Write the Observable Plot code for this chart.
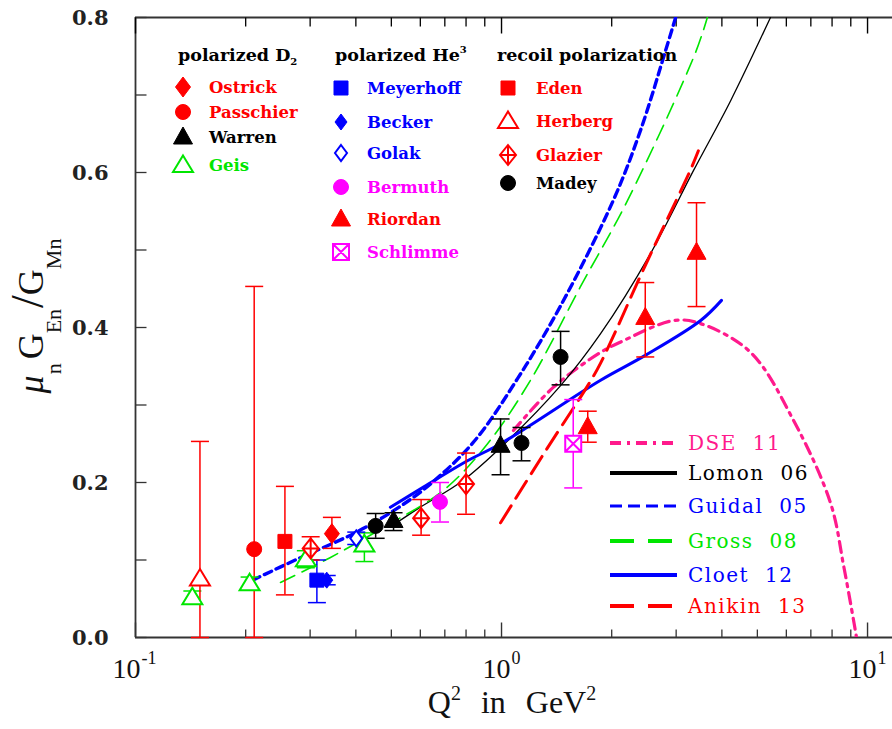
<!DOCTYPE html>
<html><head><meta charset="utf-8">
<script src="https://cdn.jsdelivr.net/npm/d3@7"></script>
<script src="https://cdn.jsdelivr.net/npm/@observablehq/plot@0.6"></script>
<style>
body{margin:0;background:#fff}
#chart{width:892px;height:729px;overflow:hidden}
</style>
</head><body><div id="chart"></div>
<script>
// ---------------- data: [Q2, value, low, high] ----------------
const ostrick   = [[0.344,0.134,0.115,0.155]];
const passchier = [[0.211,0.114,0.0,0.453]];
const warren    = [[0.507,0.151,0.138,0.161],[0.994,0.248,0.210,0.282]];
const geis      = [[0.143,0.052,0.045,0.060],[0.205,0.070,0.062,0.078],[0.292,0.101,0.090,0.112],[0.422,0.120,0.098,0.135]];
const meyerhoff = [[0.313,0.074,0.045,0.100]];
const becker    = [[0.333,0.074,0.068,0.080]];
const golak     = [[0.401,0.128,0.120,0.136]];
const bermuth   = [[0.679,0.175,0.149,0.200]];
const riordan   = [[1.72,0.272,0.252,0.292],[2.47,0.413,0.362,0.458],[3.41,0.497,0.427,0.561]];
const schlimme  = [[1.57,0.250,0.193,0.307]];
const eden      = [[0.256,0.124,0.055,0.195]];
const herberg   = [[0.150,0.076,0.0,0.253]];
const glazier   = [[0.301,0.115,0.100,0.130],[0.603,0.154,0.132,0.178],[0.80,0.198,0.159,0.238]];
const madey     = [[0.453,0.144,0.128,0.160],[1.134,0.251,0.228,0.271],[1.45,0.362,0.326,0.395]];

// theory curves: [Q2, value]
const dse11   = [[1.078,0.267],[1.387,0.323],[1.865,0.368],[2.11,0.381],[2.95,0.409],[3.50,0.405],[4.79,0.368],[6.28,0.280],[7.93,0.173],[8.60,0.093],[9.16,0.022],[9.33,0.0]];
const lomon06 = [[0.513,0.147],[0.590,0.166],[0.787,0.203],[0.994,0.245],[1.45,0.325],[1.865,0.392],[2.55,0.495],[3.35,0.603],[4.23,0.693],[5.43,0.800]];
const guidal05= [[0.209,0.074],[0.282,0.103],[0.394,0.134],[0.497,0.161],[0.628,0.195],[0.838,0.252],[1.106,0.334],[1.45,0.428],[2.02,0.564],[2.40,0.655],[2.81,0.758],[2.99,0.800]];
const gross08 = [[0.249,0.071],[0.340,0.103],[0.476,0.142],[0.694,0.190],[0.916,0.250],[1.200,0.332],[1.64,0.452],[2.21,0.564],[3.39,0.755],[3.65,0.800]];
const cloet12 = [[0.497,0.168],[0.612,0.194],[0.807,0.228],[0.994,0.250],[1.865,0.332],[2.47,0.364],[3.50,0.409],[3.99,0.435]];
const anikin13= [[0.994,0.148],[1.32,0.241],[1.72,0.325],[1.865,0.354],[2.47,0.480],[3.28,0.603],[3.45,0.628]];

// axes
const xDomain = [0.1, 11.7];
const yDomain = [0, 0.8];
const yTicksMajor = [0, 0.2, 0.4, 0.6, 0.8];
const yTicksMinor = [0.1, 0.3, 0.5, 0.7];
const yTickLabels = ["0.0", "0.2", "0.4", "0.6", "0.8"];
const xTicksMajor = [0.1, 1, 10];
const xTicksMinor = [0.2,0.3,0.4,0.5,0.6,0.7,0.8,0.9,2,3,4,5,6,7,8,9];
const xTickExps = ["-1", "0", "1"];

// legend texts
const groupTitles = ["polarized D", "polarized He", "recoil polarization"];
const groupMarks = ["2", "3", ""];
const groupD2 = ["Ostrick", "Passchier", "Warren", "Geis"];
const groupHe3 = ["Meyerhoff", "Becker", "Golak", "Bermuth", "Riordan", "Schlimme"];
const groupRecoil = ["Eden", "Herberg", "Glazier", "Madey"];
const curveNames = ["DSE 11", "Lomon 06", "Guidal 05", "Gross 08", "Cloet 12", "Anikin 13"];

// ---------------- styles ----------------
const RED = "#ff0000", BLUE = "#0000ff", GREEN = "#00e600", MAG = "#ff00ff", BLK = "#000000", PINK = "#ff1a8c";
const sym = f => ({draw(c){ f(c); }});
const S = {
  circle: sym(c=>{c.moveTo(7.5,0);c.arc(0,0,7.5,0,2*Math.PI);}),
  square: sym(c=>{c.rect(-7,-7,14,14);}),
  diamond: sym(c=>{c.moveTo(0,-10);c.lineTo(7.5,0);c.lineTo(0,10);c.lineTo(-7.5,0);c.closePath();}),
  diamondS: sym(c=>{c.moveTo(0,-8);c.lineTo(6,0);c.lineTo(0,8);c.lineTo(-6,0);c.closePath();}),
  triangle: sym(c=>{c.moveTo(0,-10);c.lineTo(9.5,7);c.lineTo(-9.5,7);c.closePath();}),
  triangleO: sym(c=>{c.moveTo(0,-9.5);c.lineTo(10,7);c.lineTo(-10,7);c.closePath();}),
  crossDiamond: sym(c=>{c.moveTo(0,-10);c.lineTo(8,0);c.lineTo(0,10);c.lineTo(-8,0);c.closePath();c.moveTo(0,-10);c.lineTo(0,10);c.moveTo(-8,0);c.lineTo(8,0);}),
  crossSquare: sym(c=>{c.rect(-8,-8,16,16);c.moveTo(-8,-8);c.lineTo(8,8);c.moveTo(8,-8);c.lineTo(-8,8);}),
  cap: sym(c=>{c.moveTo(-9,0);c.lineTo(9,0);}),
  tickIn: sym(c=>{c.moveTo(0,0);c.lineTo(11,0);}),
  tickUpMaj: sym(c=>{c.moveTo(0,0);c.lineTo(0,-15);}),
  tickUpMin: sym(c=>{c.moveTo(0,0);c.lineTo(0,-8);}),
  tickDnMaj: sym(c=>{c.moveTo(0,0);c.lineTo(0,16);}),
  tickDnMin: sym(c=>{c.moveTo(0,0);c.lineTo(0,9);})
};
const seriesStyle = {
  Ostrick:  {data: ostrick,   color: RED,  symbol: S.diamond,      open: false},
  Passchier:{data: passchier, color: RED,  symbol: S.circle,       open: false},
  Warren:   {data: warren,    color: BLK,  symbol: S.triangle,     open: false},
  Geis:     {data: geis,      color: GREEN,symbol: S.triangleO,    open: true},
  Meyerhoff:{data: meyerhoff, color: BLUE, symbol: S.square,       open: false},
  Becker:   {data: becker,    color: BLUE, symbol: S.diamondS,     open: false},
  Golak:    {data: golak,     color: BLUE, symbol: S.diamondS,     open: true},
  Bermuth:  {data: bermuth,   color: MAG,  symbol: S.circle,       open: false},
  Riordan:  {data: riordan,   color: RED,  symbol: S.triangle,     open: false},
  Schlimme: {data: schlimme,  color: MAG,  symbol: S.crossSquare,  open: true},
  Eden:     {data: eden,      color: RED,  symbol: S.square,       open: false},
  Herberg:  {data: herberg,   color: RED,  symbol: S.triangleO,    open: true},
  Glazier:  {data: glazier,   color: RED,  symbol: S.crossDiamond, open: true},
  Madey:    {data: madey,     color: BLK,  symbol: S.circle,       open: false}
};
const curveStyle = {
  "DSE 11":   {data: dse11,    color: PINK, width: 3.2, dash: "11,6,3,6", lw: 4, ldash: "11,6,3,6"},
  "Lomon 06": {data: lomon06,  color: BLK,  width: 1.3, dash: null,       lw: 4, ldash: null},
  "Guidal 05":{data: guidal05, color: BLUE, width: 3.4, dash: "8,5",      lw: 3, ldash: "12,6"},
  "Gross 08": {data: gross08,  color: GREEN,width: 1.6, dash: "16,8",     lw: 4, ldash: "24,14"},
  "Cloet 12": {data: cloet12,  color: BLUE, width: 3,   dash: null,       lw: 4, ldash: null},
  "Anikin 13":{data: anikin13, color: RED,  width: 3,   dash: "20,9",     lw: 4, ldash: "24,14"}
};

// ---------------- marks ----------------
const AX = "#333";
const marks = [];
// frame
marks.push(Plot.ruleY([yDomain[0]], {stroke: AX, strokeWidth: 1.8}));
marks.push(Plot.ruleY([yDomain[1]], {stroke: AX, strokeWidth: 1.8}));
marks.push(Plot.ruleX([xDomain[0]], {stroke: AX, strokeWidth: 1.8}));
// y ticks
marks.push(Plot.dot(yTicksMajor.concat(yTicksMinor), {x: () => xDomain[0], y: d => d, symbol: S.tickIn, stroke: AX, strokeWidth: 1.3}));
// x ticks (bottom and top)
marks.push(Plot.dot(xTicksMajor, {x: d => d, y: () => yDomain[0], symbol: S.tickUpMaj, stroke: AX, strokeWidth: 1.4}));
marks.push(Plot.dot(xTicksMinor, {x: d => d, y: () => yDomain[0], symbol: S.tickUpMin, stroke: AX, strokeWidth: 1.3}));
marks.push(Plot.dot(xTicksMajor, {x: d => d, y: () => yDomain[1], symbol: S.tickDnMaj, stroke: BLK, strokeWidth: 1.4}));
marks.push(Plot.dot(xTicksMinor, {x: d => d, y: () => yDomain[1], symbol: S.tickDnMin, stroke: BLK, strokeWidth: 1.3}));
// y tick labels
marks.push(Plot.text(yTicksMajor, {x: () => xDomain[0], y: d => d, text: (d, i) => yTickLabels[i], textAnchor: "end", dx: -27, dy: 1,
  fontFamily: "DejaVu Serif", fontWeight: "bold", fontSize: 21, fill: "#222"}));
// x tick labels "10" + exponent
xTicksMajor.forEach((t, i) => {
  const e = xTickExps[i];
  const ew = e.length * 8;
  marks.push(Plot.text([t], {x: d => d, y: () => yDomain[0], text: () => "10", textAnchor: "end", dx: 14 - ew / 2 - 1, dy: 32,
    fontFamily: "Liberation Serif", fontSize: 28, fill: "#111"}));
  marks.push(Plot.text([t], {x: d => d, y: () => yDomain[0], text: () => e, textAnchor: "start", dx: 14 - ew / 2, dy: 21,
    fontFamily: "Liberation Serif", fontSize: 18, fill: "#111"}));
});
// theory curves
for (const name of curveNames) {
  const s = curveStyle[name];
  marks.push(Plot.line(s.data, {x: d => d[0], y: d => d[1], stroke: s.color, strokeWidth: s.width,
    strokeDasharray: s.dash || undefined, curve: "catmull-rom", clip: true}));
}
// data points with error bars
for (const name of [...groupD2, ...groupHe3, ...groupRecoil]) {
  const s = seriesStyle[name];
  marks.push(Plot.ruleX(s.data, {x: d => d[0], y1: d => d[2], y2: d => d[3], stroke: s.color, strokeWidth: 1.5}));
  marks.push(Plot.dot(s.data, {x: d => d[0], y: d => d[2], symbol: S.cap, stroke: s.color, strokeWidth: 1.5}));
  marks.push(Plot.dot(s.data, {x: d => d[0], y: d => d[3], symbol: S.cap, stroke: s.color, strokeWidth: 1.5}));
}
for (const name of [...groupD2, ...groupHe3, ...groupRecoil]) {
  const s = seriesStyle[name];
  marks.push(Plot.dot(s.data, {x: d => d[0], y: d => d[1], symbol: s.symbol,
    fill: s.open ? "white" : s.color, stroke: s.color, strokeWidth: s.open ? 2 : 1}));
}

const chart = Plot.plot({
  width: 892, height: 729,
  marginLeft: 135, marginRight: 0, marginTop: 17, marginBottom: 92,
  x: {type: "log", domain: xDomain, axis: null},
  y: {domain: yDomain, axis: null},
  style: {background: "white", overflow: "visible"},
  marks
});
document.getElementById("chart").appendChild(chart);

// ---------------- titles and legends (overlay) ----------------
const svg = d3.select(chart);
// x title
const xt = svg.append("text").attr("x", 512).attr("y", 713).attr("text-anchor", "middle")
  .attr("font-family", "Liberation Serif").attr("font-size", 32).attr("fill", "#111").attr("word-spacing", 12);
xt.append("tspan").text("Q");
xt.append("tspan").attr("font-size", 20).attr("dy", -13).text("2");
xt.append("tspan").attr("dy", 13).text(" in GeV");
xt.append("tspan").attr("font-size", 20).attr("dy", -13).text("2");
// y title
const yt = svg.append("text").attr("transform", "translate(43,316) rotate(-90)").attr("text-anchor", "middle")
  .attr("font-family", "Liberation Serif").attr("font-size", 36).attr("fill", "#111");
yt.append("tspan").attr("font-style", "italic").text("\u03bc");
yt.append("tspan").attr("font-size", 22).attr("dy", 18).attr("dx", 1).text("n");
yt.append("tspan").attr("dy", -18).attr("dx", 4).text("G");
yt.append("tspan").attr("font-size", 22).attr("dy", 18).text("En");
yt.append("tspan").attr("font-size", 46).attr("dy", -18).attr("dx", 1).text("/");
yt.append("tspan").text("G");
yt.append("tspan").attr("font-size", 22).attr("dy", 18).text("Mn");

// symbol legends
const symPath = s => d3.symbol(s, 64)();
const groups = [
  {names: groupD2, hx: 178, sx: 183, tx: 209, ys: [87, 112, 137, 165]},
  {names: groupHe3, hx: 335, sx: 341, tx: 367, ys: [88, 122, 153, 187, 219, 252]},
  {names: groupRecoil, hx: 497, sx: 508, tx: 536, ys: [88, 121, 155, 183]}
];
groups.forEach((g, gi) => {
  const h = svg.append("text").attr("x", g.hx).attr("y", 61).attr("text-anchor", "start").attr("font-family", "DejaVu Serif")
    .attr("font-weight", "bold").attr("font-size", 17.5).attr("fill", "#000");
  h.append("tspan").text(groupTitles[gi]);
  if (groupMarks[gi]) {
    const isSub = gi === 0;
    h.append("tspan").attr("font-size", 10).attr("dy", isSub ? 4 : -8).text(groupMarks[gi]);
  }
  g.names.forEach((n, i) => {
    const s = seriesStyle[n];
    svg.append("path").attr("d", symPath(s.symbol)).attr("transform", `translate(${g.sx},${g.ys[i]})`)
      .attr("fill", s.open ? "white" : s.color).attr("stroke", s.color).attr("stroke-width", s.open ? 2 : 1);
    svg.append("text").attr("x", g.tx).attr("y", g.ys[i]).attr("dy", "0.36em").attr("text-anchor", "start")
      .attr("font-family", "DejaVu Serif").attr("font-weight", "bold").attr("font-size", 16.5).attr("fill", s.color).text(n);
  });
});
// curve legend
const cys = [443, 473, 506, 541, 575, 606];
curveNames.forEach((n, i) => {
  const s = curveStyle[n];
  svg.append("line").attr("x1", 610).attr("x2", 677).attr("y1", cys[i]).attr("y2", cys[i])
    .attr("stroke", s.color).attr("stroke-width", s.lw).attr("stroke-dasharray", s.ldash);
  svg.append("text").attr("x", 688).attr("y", cys[i]).attr("dy", "0.36em").attr("text-anchor", "start")
    .attr("font-family", "DejaVu Serif").attr("font-size", 20).attr("letter-spacing", 1.5).attr("word-spacing", 8)
    .attr("fill", s.color).text(n);
});
</script>
</body></html>
